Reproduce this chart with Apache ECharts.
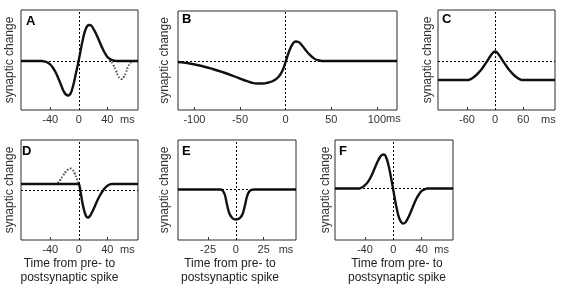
<!DOCTYPE html>
<html><head><meta charset="utf-8">
<script src="https://cdn.jsdelivr.net/npm/echarts@6/dist/echarts.min.js"></script>
<style>html,body{margin:0;padding:0;background:#fff}#c{width:564px;height:286px}</style>
</head><body><div id="c"></div>
<script>
const FONT = 'Liberation Sans, Arial, Helvetica, sans-serif';

// ---- data: [time from pre- to postsynaptic spike (ms), synaptic change] ----
const aSolid = [[-81,0],[-52,0],[-48,-0.01],[-44,-0.03],[-40,-0.07],[-36,-0.14],[-32,-0.24],[-28,-0.37],[-24,-0.51],[-21,-0.61],[-18,-0.67],[-15,-0.69],[-12,-0.66],[-9,-0.55],[-6,-0.38],[-3,-0.18],[0,0.02],[3,0.24],[6,0.45],[9,0.61],[12,0.7],[15,0.72],[18,0.7],[21,0.63],[25,0.52],[29,0.39],[33,0.26],[37,0.15],[41,0.07],[45,0.03],[49,0.01],[53,0],[83,0]];
const aDotted = [[40,0.07],[44,0.02],[48,-0.07],[52,-0.19],[55,-0.29],[58,-0.35],[60,-0.36],[63,-0.32],[66,-0.23],[69,-0.12],[72,-0.05],[75,-0.01],[78,0]];
const bSolid = [[-118,-0.02],[-105,-0.05],[-92,-0.1],[-80,-0.16],[-68,-0.23],[-56,-0.31],[-46,-0.38],[-38,-0.43],[-31,-0.45],[-25,-0.45],[-19,-0.43],[-13,-0.39],[-8,-0.32],[-4,-0.21],[-1,-0.07],[2,0.1],[5,0.25],[8,0.35],[11,0.39],[14,0.38],[17,0.33],[21,0.24],[25,0.15],[29,0.08],[33,0.03],[37,0.01],[41,0],[122,0]];
const cSolid = [[-122,-0.38],[-60,-0.38],[-54,-0.37],[-48,-0.34],[-40,-0.28],[-32,-0.2],[-24,-0.1],[-16,0.01],[-10,0.1],[-5,0.16],[0,0.19],[5,0.16],[10,0.1],[16,0.01],[24,-0.1],[32,-0.2],[40,-0.28],[48,-0.34],[54,-0.37],[60,-0.38],[128,-0.38]];
const dSolid = [[-81,0.12],[0,0.12],[1,0.08],[3,-0.08],[5,-0.25],[7,-0.38],[9,-0.48],[11,-0.54],[13,-0.55],[15,-0.53],[18,-0.46],[22,-0.34],[26,-0.21],[30,-0.1],[34,-0.01],[38,0.06],[42,0.1],[46,0.12],[83,0.12]];
const dDotted = [[-34,0.12],[-30,0.14],[-26,0.2],[-22,0.29],[-18,0.37],[-15,0.41],[-12,0.43],[-9,0.41],[-6,0.34],[-3,0.23],[0,0.12]];
const eSolid = [[-52,0],[-14,0],[-12,-0.02],[-10,-0.1],[-8,-0.3],[-6,-0.47],[-4,-0.55],[-2,-0.59],[0,-0.6],[2,-0.59],[4,-0.56],[6,-0.49],[8,-0.33],[10,-0.14],[12,-0.04],[14,-0.01],[16,0],[54,0]];
const fSolid = [[-82,0],[-50,0],[-46,0.01],[-42,0.04],[-38,0.09],[-34,0.17],[-30,0.28],[-26,0.41],[-22,0.54],[-19,0.62],[-16,0.67],[-13,0.68],[-10,0.62],[-7,0.48],[-4,0.28],[-1,0.05],[2,-0.19],[5,-0.41],[8,-0.58],[11,-0.67],[14,-0.7],[17,-0.68],[20,-0.61],[24,-0.49],[28,-0.35],[32,-0.22],[36,-0.12],[40,-0.05],[44,-0.02],[48,0],[84,0]];

// ---- tick labels ----
const ticksA = [-40, 0, 40];
const ticksB = [-100, -50, 0, 50, 100];
const ticksC = [-60, 0, 60];
const ticksD = [-40, 0, 40];
const ticksE = [-25, 0, 25];
const ticksF = [-40, 0, 40];
const unitLabel = 'ms';
const yName = 'synaptic change';
const xName = 'Time from pre- to\npostsynaptic spike';

const panels = [
  {letter:'A', g:[21,10,117,100], x:[-81,83], y:[-0.98,1.02], ticks:ticksA, ms:68, solid:aSolid, dotted:aDotted, gap:5, lt:[26,15], xn:false},
  {letter:'B', g:[178,11,219,99], x:[-118,122], y:[-0.98,1.0], ticks:ticksB, ms:118, solid:bSolid, dotted:null, gap:7, lt:[182,13], xn:false, raise:true},
  {letter:'C', g:[438,10,117,100], x:[-122,128], y:[-0.98,1.02], ticks:ticksC, ms:114, solid:cSolid, dotted:null, gap:4, lt:[442,13], xn:false},
  {letter:'D', g:[21,140,117,100], x:[-81,83], y:[-1,1], ticks:ticksD, ms:68, solid:dSolid, dotted:dDotted, gap:5, lt:[22,145], xn:true, pad:[0,20,0,0]},
  {letter:'E', g:[178,140,118,100], x:[-52,54], y:[-1.01,0.99], ticks:ticksE, ms:45, solid:eSolid, dotted:null, gap:7, lt:[182,145], xn:true, pad:[0,14,0,0]},
  {letter:'F', g:[335,140,118,100], x:[-82,84], y:[-1.03,0.97], ticks:ticksF, ms:68, solid:fSolid, dotted:null, gap:3, lt:[339,145], xn:true, pad:[0,0,0,6]}
];

const grid = [], xAxis = [], yAxis = [], series = [], title = [];
panels.forEach((p, i) => {
  grid.push({left:p.g[0], top:p.g[1], width:p.g[2], height:p.g[3], show:true, borderColor:'#2a2a2a', borderWidth:1, containLabel:false});
  title.push({text:p.letter, left:p.lt[0], top:p.lt[1], padding:0, textStyle:{fontSize:13, fontWeight:'bold', color:'#000', fontFamily:FONT}});
  const ms = p.ms;
  xAxis.push({
    type:'value', gridIndex:i, min:p.x[0], max:p.x[1], position:'bottom',
    axisLine:{show:false, onZero:false}, splitLine:{show:false},
    axisTick:{show:true, inside:true, length:3, customValues:p.ticks.filter(v => v !== 0), lineStyle:{color:'#333', width:1}},
    axisLabel:{
      customValues:p.ticks.concat([ms]), margin:4, fontSize:11, color:'#333', fontFamily:FONT,
      formatter: v => v === ms ? (p.raise ? '{up|' + unitLabel + '}' : unitLabel) : String(v),
      rich:{up:{fontSize:11, color:'#333', fontFamily:FONT, lineHeight:9}}
    },
    name: p.xn ? xName : '', nameLocation:'middle', nameGap:17,
    nameTextStyle:{fontSize:12, lineHeight:14, color:'#222', fontFamily:FONT, padding:p.pad || 0}
  });
  yAxis.push({
    type:'value', gridIndex:i, min:p.y[0], max:p.y[1],
    axisLine:{show:false, onZero:false}, axisTick:{show:false}, axisLabel:{show:false}, splitLine:{show:false},
    name:yName, nameLocation:'middle', nameGap:p.gap,
    nameTextStyle:{fontSize:12, color:'#333', fontFamily:FONT}
  });
  if (p.dotted) {
    series.push({type:'line', xAxisIndex:i, yAxisIndex:i, data:p.dotted, showSymbol:false, smooth:0.5, z:2,
      lineStyle:{width:2, color:'#555', type:[1.6,1.6]}, silent:true});
  }
  series.push({type:'line', xAxisIndex:i, yAxisIndex:i, data:p.solid, showSymbol:false, smooth:0.5, z:3,
    lineStyle:{width:2.4, color:'#111'}, silent:true,
    markLine:{silent:true, symbol:['none','none'], label:{show:false}, animation:false,
      lineStyle:{type:[2,2], width:1, color:'#000'},
      data:[{xAxis:0},{yAxis:0}]}
  });
});

const chart = echarts.init(document.getElementById('c'));
chart.setOption({animation:false, backgroundColor:'#fff', title, grid, xAxis, yAxis, series});
</script></body></html>
